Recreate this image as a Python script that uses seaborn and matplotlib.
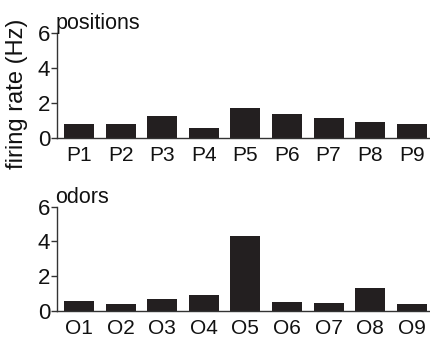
import matplotlib
matplotlib.use("Agg")
import matplotlib.pyplot as plt
import seaborn as sns
import pandas as pd

# Mean firing rates per stimulus (Hz)
positions = ["P1", "P2", "P3", "P4", "P5", "P6", "P7", "P8", "P9"]
position_rates = [0.80, 0.80, 1.27, 0.55, 1.70, 1.35, 1.13, 0.93, 0.82]

odors = ["O1", "O2", "O3", "O4", "O5", "O6", "O7", "O8", "O9"]
odor_rates = [0.58, 0.40, 0.66, 0.92, 4.33, 0.50, 0.43, 1.29, 0.40]

y_ticks = [0, 2, 4, 6]

sns.set_theme(style="ticks")
plt.rcParams["font.family"] = ["Liberation Sans", "DejaVu Sans"]
plt.rcParams["font.size"] = 12.5

bar_color = "#231f20"
axis_color = "#333333"
text_color = "#111111"

fig = plt.figure(figsize=(4.3, 3.4), dpi=100)
ax_top = fig.add_axes([0.1326, 0.594, 0.866, 0.309])
ax_bot = fig.add_axes([0.1326, 0.086, 0.866, 0.306])

panels = [
    (ax_top, positions, position_rates, "positions"),
    (ax_bot, odors, odor_rates, "odors"),
]

for ax, cats, vals, title in panels:
    df = pd.DataFrame({"stim": cats, "rate": vals})
    sns.barplot(data=df, x="stim", y="rate", color=bar_color, saturation=1,
                width=0.72, edgecolor="none", ax=ax)
    ax.set_ylim(0, 6)
    ax.set_xlim(-0.528, 8.425)
    ax.set_yticks(y_ticks)
    ax.set_xlabel("")
    ax.set_ylabel("")
    sns.despine(ax=ax)
    for side in ("left", "bottom"):
        ax.spines[side].set_color(axis_color)
        ax.spines[side].set_linewidth(1.0)
    ax.tick_params(axis="y", length=4, width=1.0, color=axis_color, pad=1,
                   labelsize=16, labelcolor=text_color)
    ax.tick_params(axis="x", length=0, pad=6, labelsize=15, labelcolor=text_color)
    ax.text(-0.005, 0.99, title, transform=ax.transAxes, ha="left", va="bottom",
            fontsize=15.5, color=text_color)

ax_top.set_ylabel("firing rate (Hz)", fontsize=17, color=text_color)
ax_top.yaxis.set_label_coords(-0.078, 0.42)

fig.savefig("out.png", dpi=100)
